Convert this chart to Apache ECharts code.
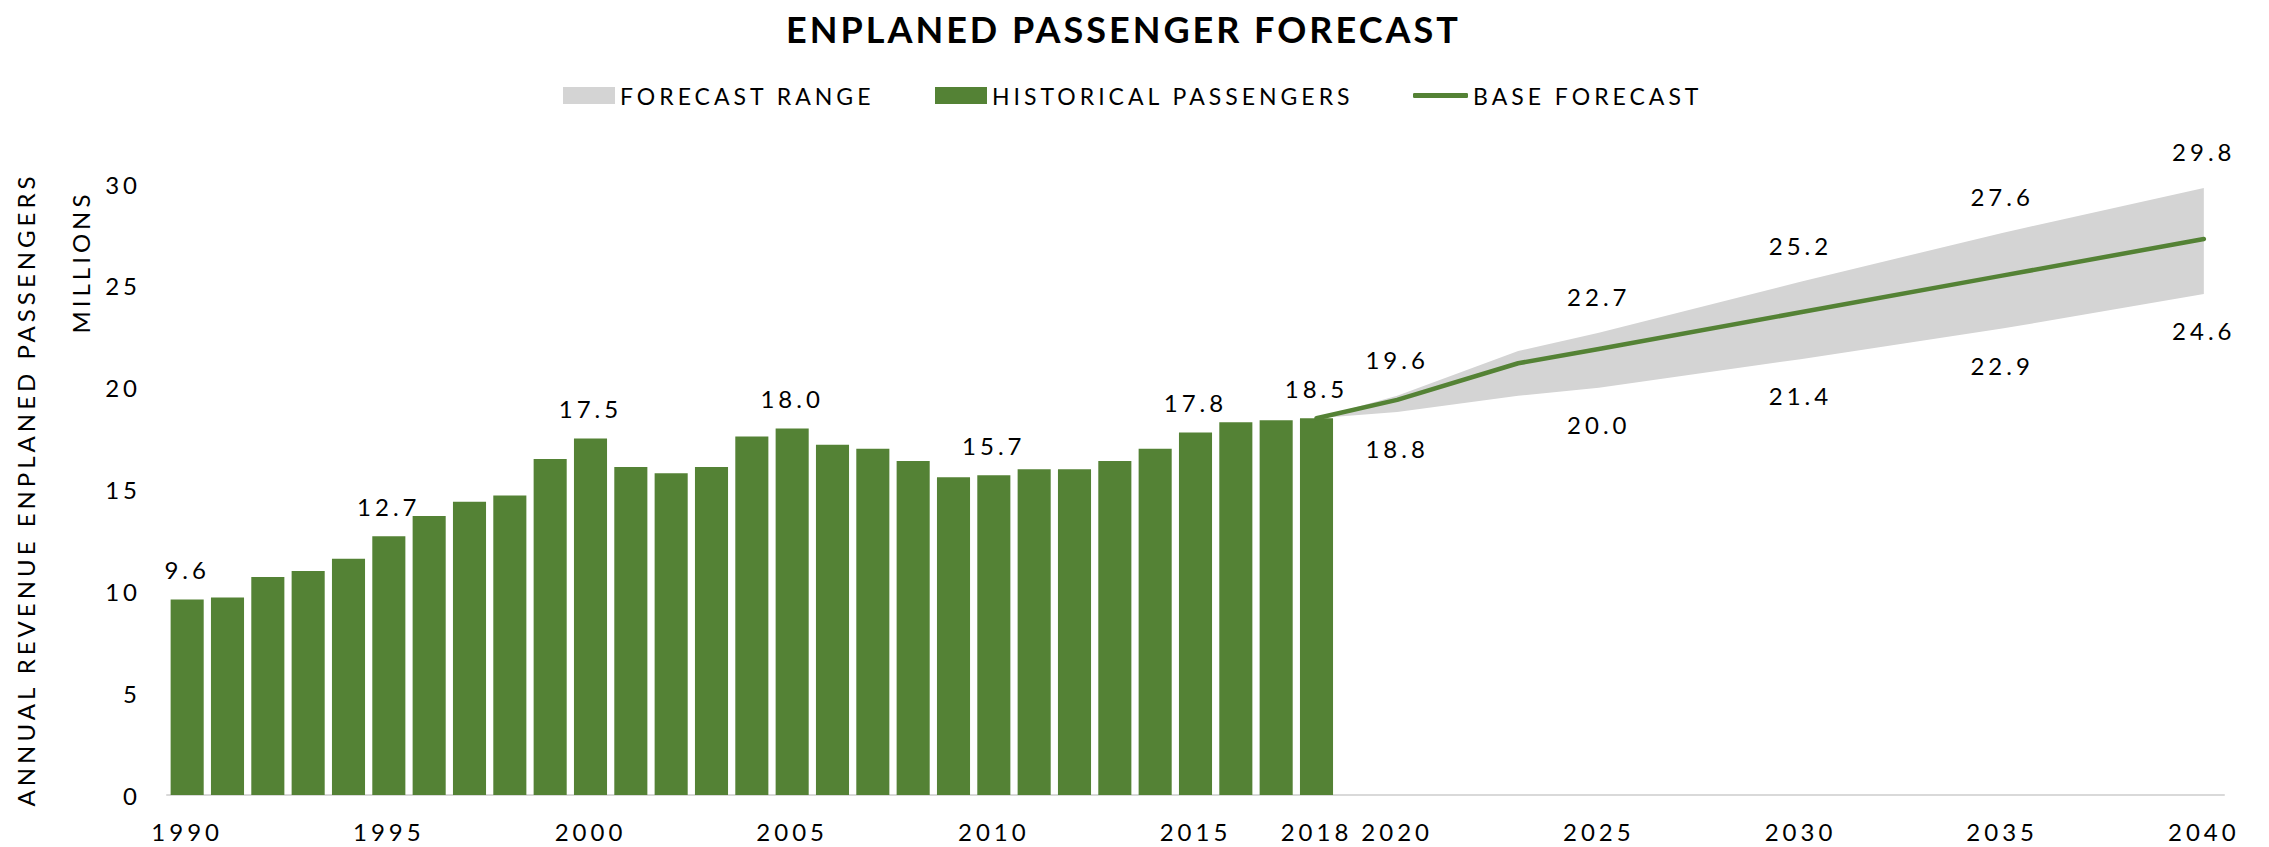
<!DOCTYPE html>
<html>
<head>
<meta charset="utf-8">
<script src="https://cdn.jsdelivr.net/npm/echarts@6/dist/echarts.min.js"></script>
<style>
html,body{margin:0;padding:0;background:#fff;}
#chart{width:2269px;height:847px;}
#chart text{letter-spacing:4px;}
</style>
</head>
<body>
<div id="chart"></div>
<script>
const years = ['1990','1991','1992','1993','1994','1995','1996','1997','1998','1999',
  '2000','2001','2002','2003','2004','2005','2006','2007','2008','2009',
  '2010','2011','2012','2013','2014','2015','2016','2017','2018','2019',
  '2020','2021','2022','2023','2024','2025','2026','2027','2028','2029',
  '2030','2031','2032','2033','2034','2035','2036','2037','2038','2039','2040'];

// Historical enplaned passengers, 1990-2018 (millions)
const historicalPassengers = [9.6, 9.7, 10.7, 11.0, 11.6, 12.7, 13.7, 14.4, 14.7, 16.5,
  17.5, 16.1, 15.8, 16.1, 17.6, 18.0, 17.2, 17.0, 16.4, 15.6,
  15.7, 16.0, 16.0, 16.4, 17.0, 17.8, 18.3, 18.4, 18.5];

// Forecast (millions)
const forecastYears = ['2018','2020','2023','2025','2030','2035','2040'];
const baseForecast  = [18.5, 19.4, 21.2, 21.9, 23.7, 25.5, 27.3];
const rangeHigh     = [18.5, 19.6, 21.8, 22.7, 25.2, 27.6, 29.8];
const rangeLow      = [18.5, 18.8, 19.6, 20.0, 21.4, 22.9, 24.6];

const barLabelYears   = ['1990','1995','2000','2005','2010','2015','2018'];
const rangeLabelYears = ['2020','2025','2030','2035','2040'];
const xTickLabels     = ['1990','1995','2000','2005','2010','2015','2018','2020','2025','2030','2035','2040'];

const TITLE = 'ENPLANED PASSENGER FORECAST';
const GREEN = '#548235';
const GREY = '#d4d4d4';
const FONT = 'Lato, "Open Sans", sans-serif';

const pairs = (vals) => forecastYears.map((y, i) => [y, vals[i]]);
const bandVals = rangeHigh.map((v, i) => +(v - rangeLow[i]).toFixed(2));

const labelStyle = { color: '#000', fontFamily: FONT, fontSize: 24 };
const legendBase = {
  top: 79, itemWidth: 52, itemHeight: 17, selectedMode: false,
  textStyle: { color: '#000', fontFamily: FONT, fontSize: 23 }
};

const chart = echarts.init(document.getElementById('chart'), null, { renderer: 'svg' });
chart.setOption({
  animation: false,
  backgroundColor: '#fff',
  title: {
    text: TITLE,
    left: 781, top: 6,
    textStyle: { color: '#000', fontFamily: FONT, fontSize: 36, fontWeight: 'bold' }
  },
  legend: [
    Object.assign({}, legendBase, { left: 558,
      data: [{ name: 'FORECAST RANGE', icon: 'rect', itemStyle: { color: GREY } }] }),
    Object.assign({}, legendBase, { left: 930,
      data: [{ name: 'HISTORICAL PASSENGERS', icon: 'rect', itemStyle: { color: GREEN } }] }),
    Object.assign({}, legendBase, { left: 1408, itemWidth: 55, itemHeight: 5,
      data: [{ name: 'BASE FORECAST', icon: 'roundRect', itemStyle: { color: GREEN } }] })
  ],
  grid: { left: 167, right: 45, top: 184, bottom: 52, containLabel: false },
  xAxis: {
    type: 'category',
    data: years,
    boundaryGap: true,
    axisLine: { lineStyle: { color: '#d9d9d9', width: 2 } },
    axisTick: { interval: 0, alignWithLabel: false, length: 8, lineStyle: { color: '#d9d9d9', width: 2 } },
    axisLabel: {
      interval: (idx, val) => xTickLabels.includes(val),
      margin: 24,
      color: '#000', fontFamily: FONT, fontSize: 24
    },
    splitLine: { show: false }
  },
  yAxis: {
    type: 'value',
    min: 0, max: 30, interval: 5,
    axisLine: { show: false },
    axisTick: { show: false },
    splitLine: { show: false },
    axisLabel: { margin: 26, color: '#000', fontFamily: FONT, fontSize: 24 },
    name: 'ANNUAL REVENUE ENPLANED PASSENGERS',
    nameLocation: 'middle',
    nameRotate: 90,
    nameGap: 130,
    nameTextStyle: { color: '#000', fontFamily: FONT, fontSize: 24 }
  },
  graphic: [{
    type: 'text',
    x: 80, y: 262,
    rotation: Math.PI / 2,
    style: { text: 'MILLIONS', fill: '#000', font: '24px ' + FONT, align: 'center', verticalAlign: 'middle' }
  }],
  series: [
    {
      name: 'Range low',
      type: 'line',
      stack: 'range',
      data: pairs(rangeLow),
      symbol: 'circle', symbolSize: 1,
      itemStyle: { color: 'rgba(0,0,0,0)' },
      lineStyle: { width: 0, opacity: 0 },
      silent: true,
      z: 1,
      label: Object.assign({
        show: true, position: 'bottom', distance: 24,
        formatter: (p) => rangeLabelYears.includes(p.value[0]) ? p.value[1].toFixed(1) : ''
      }, labelStyle)
    },
    {
      name: 'FORECAST RANGE',
      type: 'line',
      stack: 'range',
      data: pairs(bandVals),
      symbol: 'none',
      itemStyle: { color: GREY },
      lineStyle: { width: 0, opacity: 0 },
      areaStyle: { color: GREY, opacity: 1 },
      silent: true,
      z: 1
    },
    {
      name: 'Range high',
      type: 'line',
      data: pairs(rangeHigh),
      symbol: 'circle', symbolSize: 1,
      itemStyle: { color: 'rgba(0,0,0,0)' },
      lineStyle: { width: 0, opacity: 0 },
      silent: true,
      z: 1,
      label: Object.assign({
        show: true, position: 'top', distance: 24,
        formatter: (p) => rangeLabelYears.includes(p.value[0]) ? p.value[1].toFixed(1) : ''
      }, labelStyle)
    },
    {
      name: 'HISTORICAL PASSENGERS',
      type: 'bar',
      data: historicalPassengers,
      barCategoryGap: '18%',
      itemStyle: { color: GREEN },
      z: 3,
      label: Object.assign({
        show: true, position: 'top', distance: 18,
        formatter: (p) => barLabelYears.includes(p.name) ? p.value.toFixed(1) : ''
      }, labelStyle)
    },
    {
      name: 'BASE FORECAST',
      type: 'line',
      data: pairs(baseForecast),
      symbol: 'none',
      itemStyle: { color: GREEN },
      lineStyle: { color: GREEN, width: 4.5, cap: 'round', join: 'round' },
      z: 4
    }
  ]
});

function tuneTitleSpacing() {
  document.querySelectorAll('#chart text').forEach((t) => {
    if (t.textContent === TITLE) t.style.letterSpacing = '3px';
  });
}
tuneTitleSpacing();
chart.on('finished', tuneTitleSpacing);
</script>
</body>
</html>
